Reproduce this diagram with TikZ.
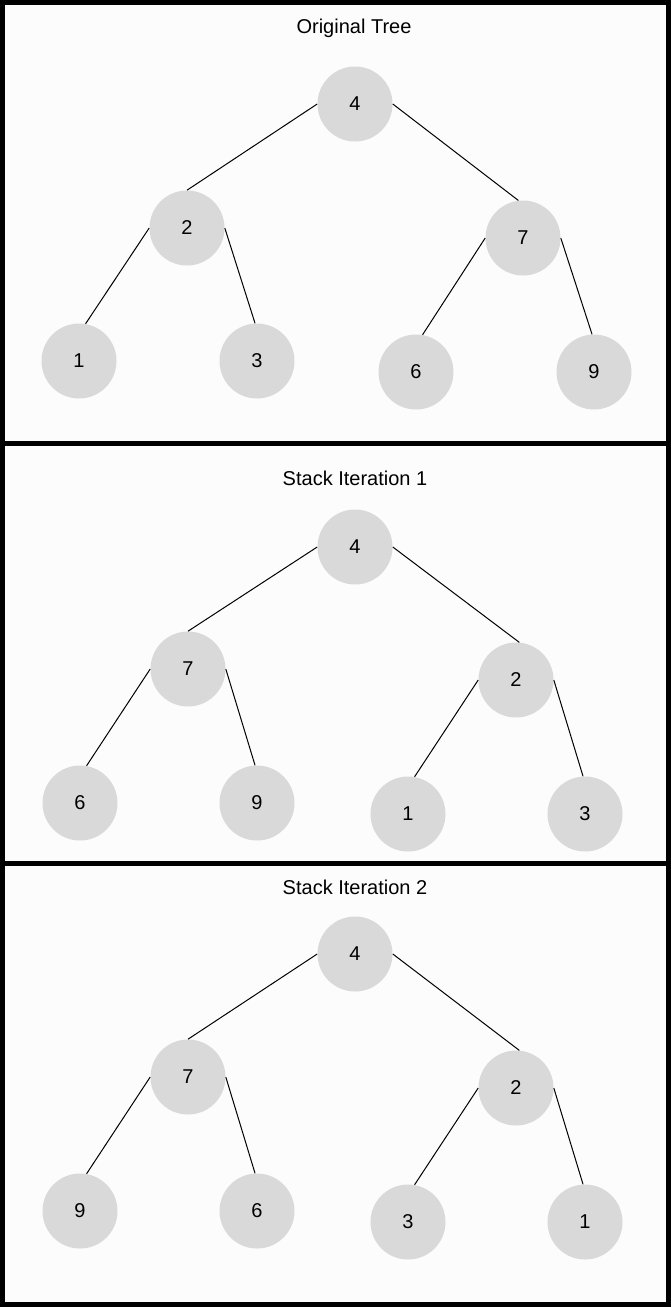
\documentclass[tikz,border=0pt]{standalone}
\usepackage{fontspec}
\setmainfont{Liberation Sans}
\definecolor{nodegray}{HTML}{D9D9D9}
\definecolor{panelbg}{HTML}{FCFCFC}

\begin{document}
\begin{tikzpicture}[x=1pt,y=-1pt,semithick,font=\fontsize{20}{24}\selectfont]
	\tikzstyle{every node}=[inner sep=0pt]
	\tikzstyle{tnode}=[circle,fill=nodegray,draw=none,minimum size=75pt]
	\tikzstyle{panel}=[draw=black,fill=panelbg,line width=5pt]
	\tikzstyle{tedge}=[draw=black,line width=1pt]

	\useasboundingbox (0,0) rectangle (671,1307);
	\path[panel] (2.5,2.5) rectangle (668.5,443.5);
	\path[panel] (2.5,443.5) rectangle (668.5,863.5);
	\path[panel] (2.5,863.5) rectangle (668.5,1304.5);

	% original tree
	\node (T1) at (354,28) {Original Tree};
	\node[tnode] (A1) at (355,104) {4};
	\node[tnode] (B1) at (187,228) {2};
	\node[tnode] (C1) at (523,238) {7};
	\node[tnode] (D1) at (79,361) {1};
	\node[tnode] (E1) at (257,361) {3};
	\node[tnode] (F1) at (416,372) {6};
	\node[tnode] (G1) at (594,372) {9};

	\path[tedge] (A1.west) edge (B1.north);
	\path[tedge] (A1.east) edge (C1.97);
	\path[tedge] (B1.west) edge (D1.80);
	\path[tedge] (B1.east) edge (E1.93);
	\path[tedge] (C1.west) edge (F1.80);
	\path[tedge] (C1.east) edge (G1.93);

	% stack iteration 1
	\node (T2) at (355,478) {Stack Iteration 1};
	\node[tnode] (A2) at (355,547) {4};
	\node[tnode] (B2) at (188,669) {7};
	\node[tnode] (C2) at (516,680) {2};
	\node[tnode] (D2) at (80,803) {6};
	\node[tnode] (E2) at (257,803) {9};
	\node[tnode] (F2) at (408,814) {1};
	\node[tnode] (G2) at (585,814) {3};

	\path[tedge] (A2.west) edge (B2.north);
	\path[tedge] (A2.east) edge (C2.85);
	\path[tedge] (B2.west) edge (D2.80);
	\path[tedge] (B2.east) edge (E2.93);
	\path[tedge] (C2.west) edge (F2.80);
	\path[tedge] (C2.east) edge (G2.93);

	% stack iteration 2
	\node (T3) at (355,887) {Stack Iteration 2};
	\node[tnode] (A3) at (355,954) {4};
	\node[tnode] (B3) at (188,1077) {7};
	\node[tnode] (C3) at (516,1088) {2};
	\node[tnode] (D3) at (80,1211) {9};
	\node[tnode] (E3) at (257,1211) {6};
	\node[tnode] (F3) at (408,1222) {3};
	\node[tnode] (G3) at (585,1222) {1};

	\path[tedge] (A3.west) edge (B3.north);
	\path[tedge] (A3.east) edge (C3.85);
	\path[tedge] (B3.west) edge (D3.80);
	\path[tedge] (B3.east) edge (E3.93);
	\path[tedge] (C3.west) edge (F3.80);
	\path[tedge] (C3.east) edge (G3.93);
\end{tikzpicture}
\end{document}
